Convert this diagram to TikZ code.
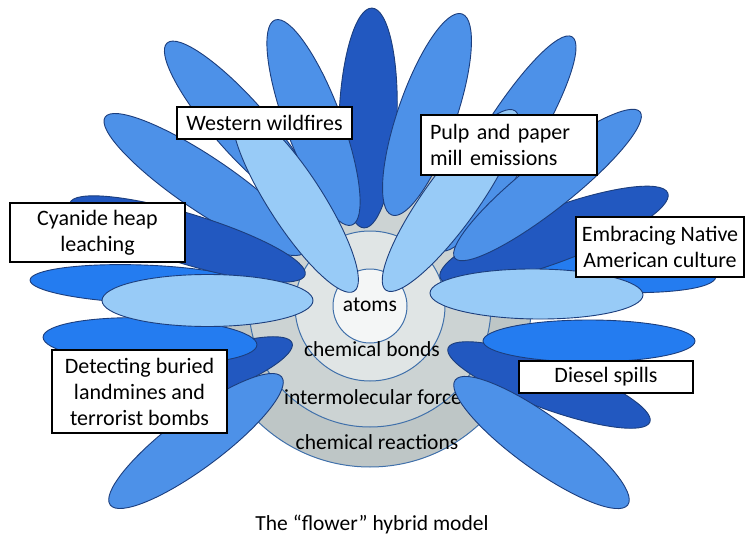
\documentclass[tikz,border=0pt]{standalone}
\usepackage{fontspec}
\setmainfont{Carlito}
\usetikzlibrary{shapes.geometric}

\definecolor{petalDark}{RGB}{34,88,192}
\definecolor{petalMid}{RGB}{77,145,232}
\definecolor{petalBright}{RGB}{36,124,240}
\definecolor{petalPale}{RGB}{152,203,247}
\definecolor{petalEdge}{RGB}{28,62,125}
\definecolor{ringEdge}{RGB}{64,112,170}
\definecolor{ringA}{RGB}{244,246,246}
\definecolor{ringB}{RGB}{224,229,229}
\definecolor{ringC}{RGB}{204,211,211}
\definecolor{ringD}{RGB}{190,198,198}

\begin{document}
\begin{tikzpicture}[x=1pt,y=-1pt,
  petal/.style={ellipse, draw=petalEdge, line width=0.9pt, inner sep=0pt},
  ring/.style={circle, draw=ringEdge, line width=1pt, inner sep=0pt},
  ringtext/.style={font=\fontsize{21.5}{25}\selectfont, text=black, inner sep=0pt, anchor=base},
  tag/.style={draw=black, line width=1.5pt, fill=white, inner sep=0pt, align=center,
              font=\fontsize{22}{26}\selectfont, text=black},
]
\useasboundingbox (0,0) rectangle (745,535);
\fill[white] (0,0) rectangle (745,535);

% concentric core
\node[ring, fill=ringD, minimum size=322] (reactions) at (370,306) {};
\node[ring, fill=ringC, minimum size=242] (forces) at (370,306) {};
\node[ring, fill=ringB, minimum size=150] (bonds) at (370,306) {};
\node[ring, fill=ringA, minimum size=74] (atoms) at (370,306) {};

\node[ringtext] (tatoms) at (370,311) {atoms};
\node[ringtext] (tbonds) at (372,356) {chemical bonds};
\node[ringtext] (tforces) at (373,404) {intermolecular force};
\node[ringtext] (treact) at (377,449) {chemical reactions};

% petals, back to front
\node[petal, fill=petalDark, minimum width=220, minimum height=58, rotate=87.9] (pTop) at (368,118) {};
\node[petal, fill=petalMid, minimum width=223, minimum height=54, rotate=-48.5] (pUL1) at (241,126.5) {};
\node[petal, fill=petalMid, minimum width=241, minimum height=54, rotate=-34] (pUL2) at (205,184.5) {};
\node[petal, fill=petalMid, minimum width=219, minimum height=56, rotate=-69.4] (pT1) at (313.5,122.5) {};
\node[petal, fill=petalMid, minimum width=213, minimum height=58, rotate=70.8] (pT2) at (427,114.5) {};
\node[petal, fill=petalMid, minimum width=251, minimum height=54, rotate=58.2] (pT3) at (506,143.5) {};
\node[petal, fill=petalBright, minimum width=238, minimum height=44, rotate=-3.6] (pR1) at (597,269.5) {};
\node[petal, fill=petalDark, minimum width=243, minimum height=54, rotate=20.4] (pR2) at (554,235.5) {};
\node[petal, fill=petalMid, minimum width=236, minimum height=50, rotate=38.3] (pT4) at (547.5,185) {};
\node[petal, fill=petalBright, minimum width=225, minimum height=38, rotate=-2] (pL1) at (142.5,284) {};
\node[petal, fill=petalDark, minimum width=246, minimum height=50, rotate=-17] (pL2) at (187.5,239) {};
\node[petal, fill=petalDark, minimum width=183, minimum height=44, rotate=19.8] (pL3) at (206,374) {};
\node[petal, fill=petalBright, minimum width=214, minimum height=46, rotate=-2.1] (pL4) at (150,341) {};
\node[petal, fill=petalMid, minimum width=214, minimum height=54, rotate=36.7] (pBL) at (196,441) {};
\node[petal, fill=petalDark, minimum width=215, minimum height=48, rotate=-20.1] (pR3) at (549,385) {};
\node[petal, fill=petalBright, minimum width=212, minimum height=42] (pR4) at (589,341) {};
\node[petal, fill=petalMid, minimum width=213, minimum height=54, rotate=-35.85] (pBR) at (541.5,442.5) {};
% pale front petals
\node[petal, fill=petalPale, minimum width=216, minimum height=54, rotate=-57.1] (paleUL) at (295.5,200.5) {};
\node[petal, fill=petalPale, minimum width=221, minimum height=54, rotate=54.2] (paleUR) at (450.5,200.5) {};
\node[petal, fill=petalPale, minimum width=211, minimum height=52] (paleL) at (207.5,300.5) {};
\node[petal, fill=petalPale, minimum width=213, minimum height=50, rotate=-0.5] (paleR) at (536.5,294) {};

% application labels
\node[tag, minimum width=175, minimum height=32] (wild) at (264.5,123) {Western wildfires};
\node[tag, minimum width=176, minimum height=60, align=left, text width=158] (pulp) at (509,145) {Pulp and paper\\mill emissions};
\node[tag, minimum width=175, minimum height=59] (cyanide) at (97.5,232.5) {Cyanide heap\\leaching};
\node[tag, minimum width=168, minimum height=60] (native) at (660,247) {Embracing Native\\American culture};
\node[tag, minimum width=174, minimum height=32] (diesel) at (606,377) {Diesel spills};
\node[tag, minimum width=175, minimum height=83] (mines) at (139.5,391.5) {Detecting buried\\landmines and\\terrorist bombs};

\node[font=\fontsize{21.5}{25}\selectfont, anchor=base, inner sep=0pt] (caption) at (372,530) {The “flower” hybrid model};
\end{tikzpicture}
\end{document}
